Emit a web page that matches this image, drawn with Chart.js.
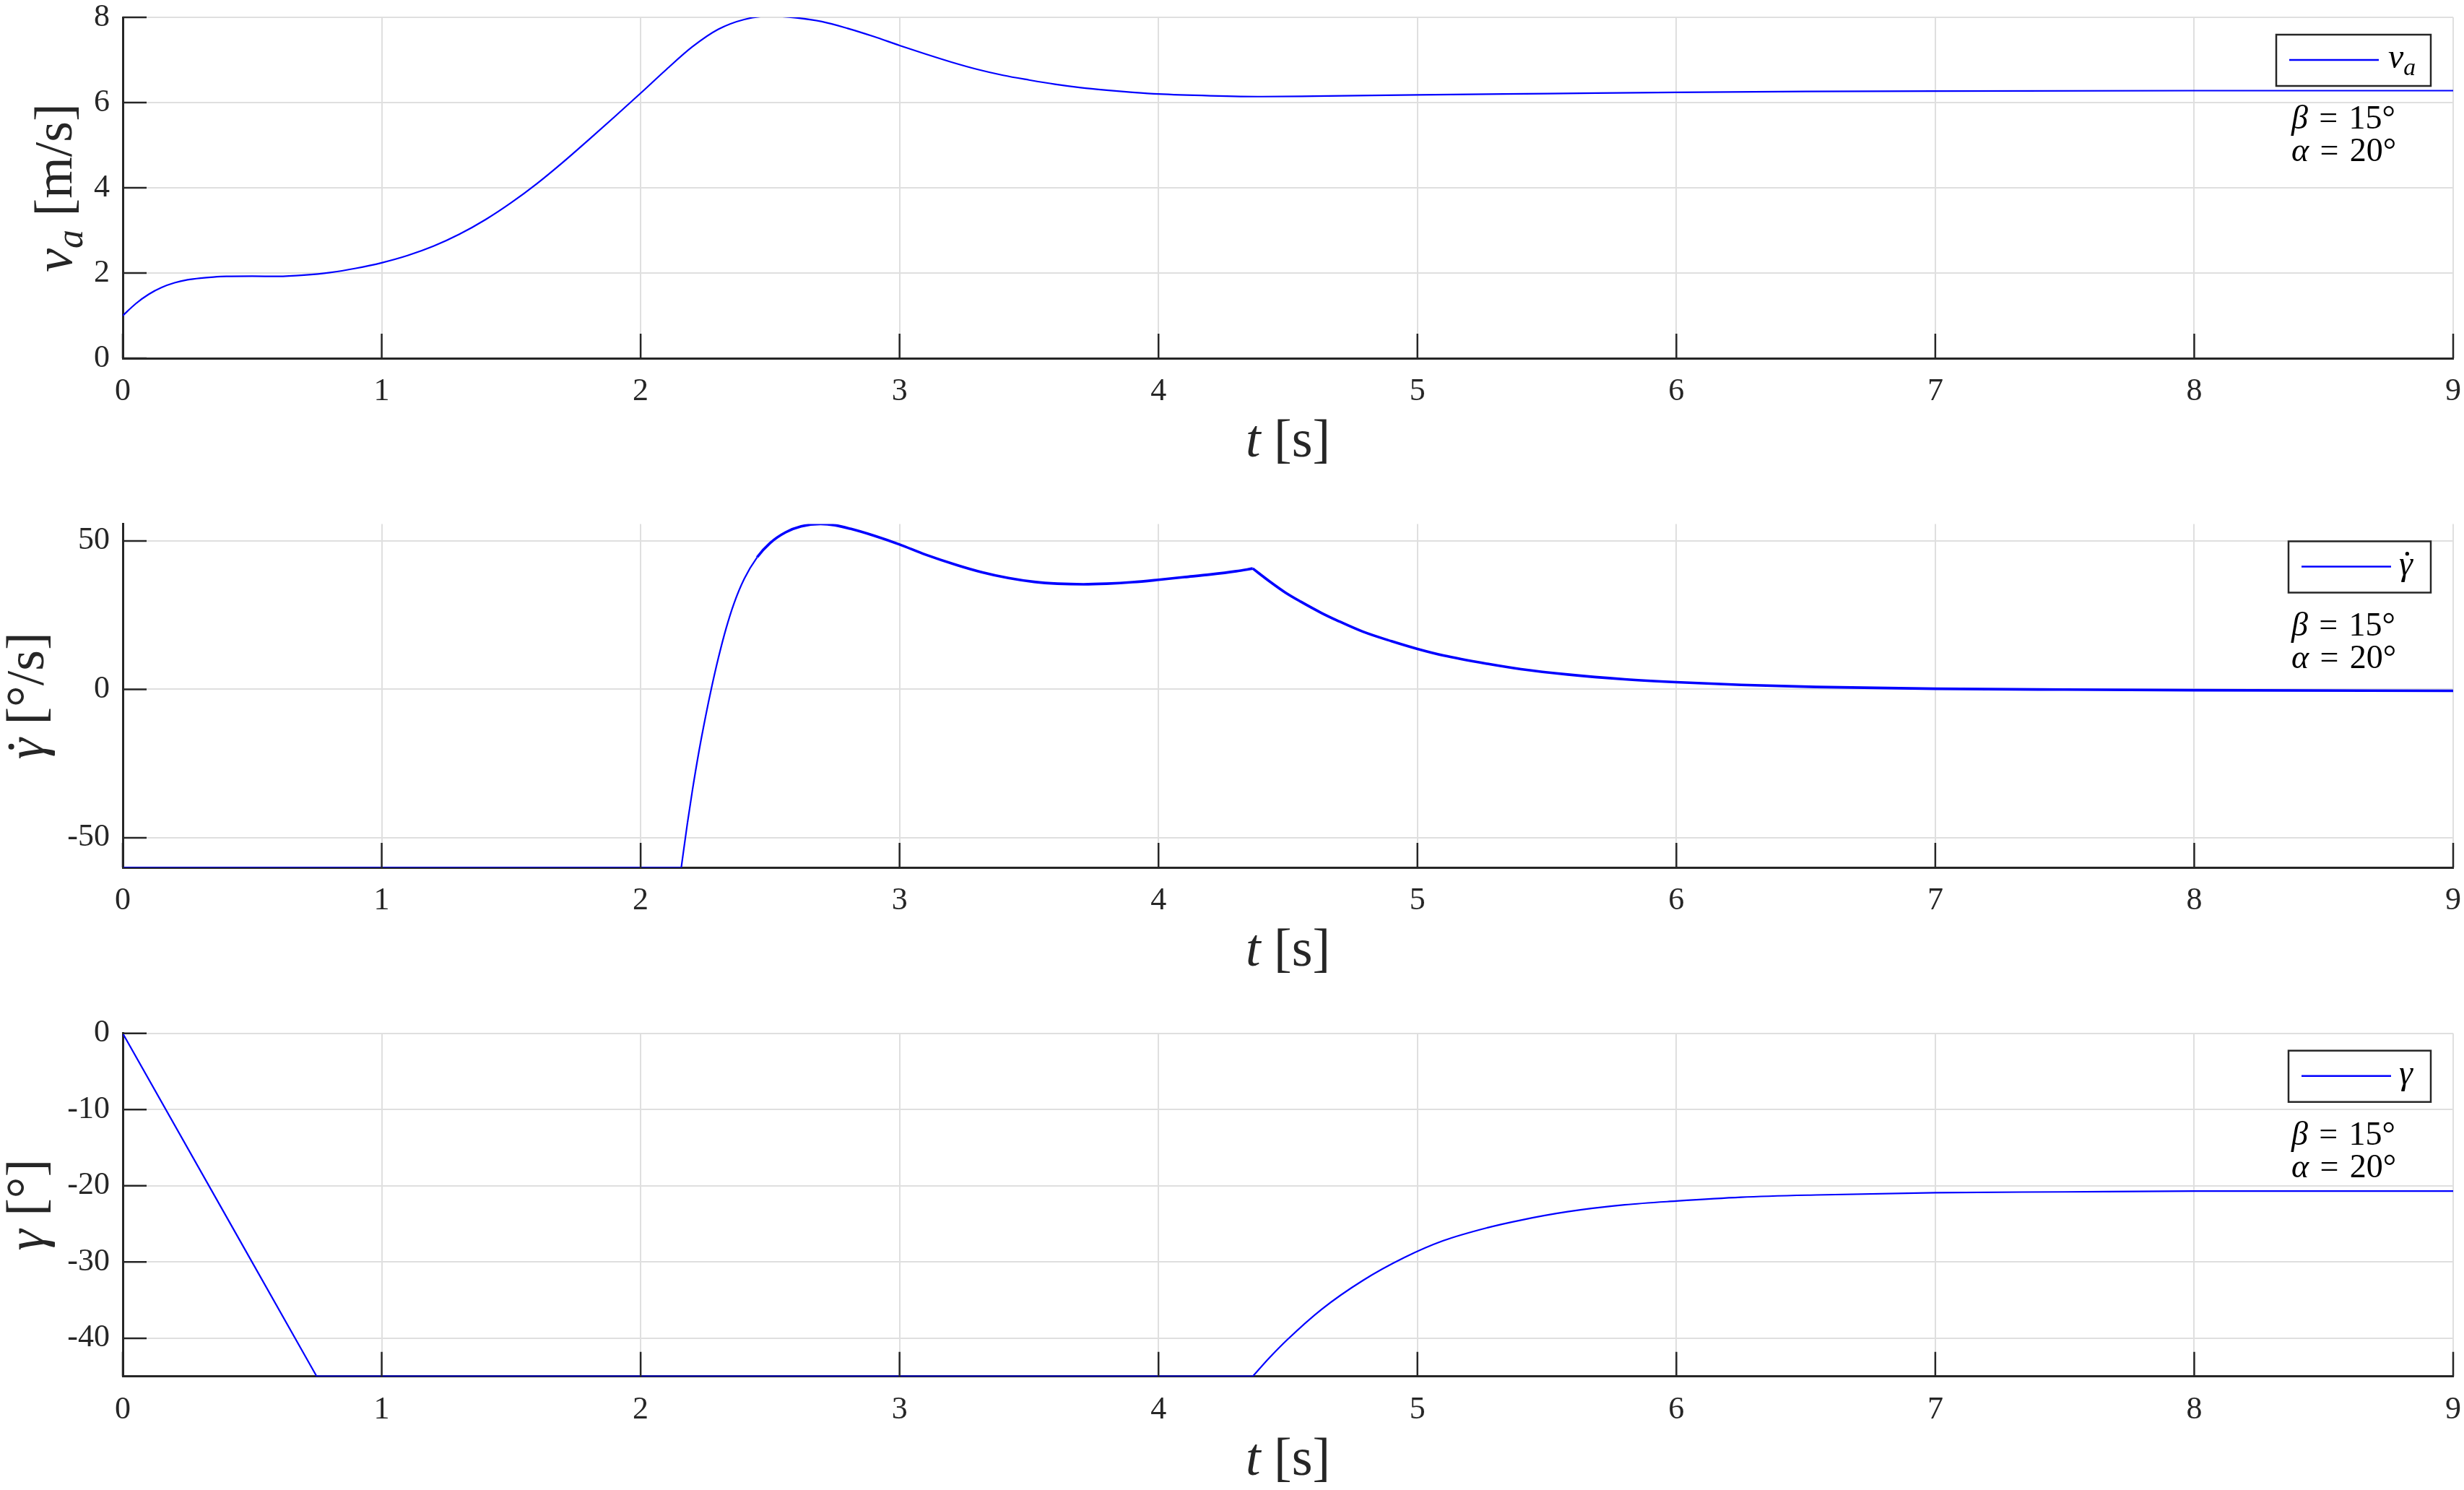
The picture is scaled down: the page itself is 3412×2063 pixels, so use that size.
<!DOCTYPE html>
<html>
<head>
<meta charset="utf-8">
<script src="https://cdn.jsdelivr.net/npm/chart.js@4.4.1/dist/chart.umd.min.js"></script>
<style>
    html, body { margin: 0; padding: 0; background: #fff; }
    #wrap { position: relative; width: 3412px; height: 2063px; overflow: hidden; }
    canvas { position: absolute; left: 0; }
</style>
</head>
<body>
<div id="wrap">
    <canvas id="c1" width="3412" height="688" style="top:0px"></canvas>
    <canvas id="c2" width="3412" height="688" style="top:688px"></canvas>
    <canvas id="c3" width="3412" height="687" style="top:1376px"></canvas>
</div>
<script>
// Data
const tVa = [0, 0.05, 0.1, 0.15, 0.2, 0.25, 0.3, 0.35, 0.4, 0.5, 0.6, 0.7, 0.8, 0.9,
    1.0, 1.1, 1.2, 1.3, 1.4, 1.5, 1.6, 1.7, 1.8, 1.9, 2.0, 2.1, 2.2, 2.3, 2.4, 2.5,
    2.6, 2.7, 2.8, 2.9, 3.0, 3.1, 3.2, 3.3, 3.4, 3.5, 3.6, 3.7, 3.8, 3.9, 4.0, 4.2,
    4.4, 4.6, 5.0, 5.5, 6.0, 6.5, 7.0, 8.0, 9.0];
const va = [1.00, 1.28, 1.50, 1.66, 1.77, 1.84, 1.88, 1.905, 1.92, 1.925, 1.92, 1.95, 2.01, 2.11,
    2.24, 2.41, 2.63, 2.91, 3.25, 3.65, 4.10, 4.60, 5.13, 5.67, 6.22, 6.78, 7.31, 7.72, 7.95, 8.03,
    7.99, 7.90, 7.74, 7.55, 7.34, 7.14, 6.95, 6.78, 6.64, 6.53, 6.43, 6.35, 6.29, 6.24, 6.20, 6.16,
    6.14, 6.15, 6.18, 6.21, 6.24, 6.26, 6.27, 6.28, 6.28];

const tGammaDot = [0, 2.157, 2.18, 2.2, 2.225, 2.25, 2.275, 2.3, 2.33, 2.36, 2.4, 2.45, 2.5,
    2.56, 2.62, 2.695, 2.75, 2.81, 2.9, 3.0, 3.1, 3.22, 3.32, 3.42, 3.52, 3.61, 3.71, 3.8, 3.9,
    4.0, 4.1, 4.2, 4.3, 4.364, 4.43, 4.49, 4.55, 4.63, 4.69, 4.79, 4.9, 5.0, 5.1, 5.27, 5.4,
    5.58, 5.8, 6.0, 6.25, 6.54, 7.0, 7.5, 8.0, 9.0];
const gammaDot = [-60, -60, -45.5, -34, -21, -9.5, 1, 10.5, 20.5, 28.8, 37.2, 44.5, 49.3,
    52.9, 54.9, 55.7, 55.3, 54.1, 51.8, 48.8, 45.4, 41.9, 39.4, 37.5, 36.2, 35.6, 35.4, 35.6, 36.1,
    36.9, 37.8, 38.7, 39.8, 40.7, 36.3, 32.6, 29.5, 25.7, 23.2, 19.4, 16.2, 13.6, 11.4, 8.6, 6.8,
    5.0, 3.4, 2.4, 1.5, 0.8, 0.2, -0.1, -0.3, -0.5];
const gammaDotCorners = [2.157, 4.364];

const tGamma = [0, 0.749, 4.364, 4.43, 4.5, 4.63, 4.79, 4.95, 5.1, 5.27, 5.4, 5.58,
    5.8, 6.0, 6.25, 6.54, 7.0, 7.5, 8.0, 9.0];
const gamma = [0, -45, -45, -42.5, -40.1, -36.2, -32.4, -29.4, -27.2, -25.5, -24.5, -23.4,
    -22.5, -22.0, -21.5, -21.2, -20.9, -20.8, -20.7, -20.7];
const gammaCorners = [0.749, 4.364];

const yTicksVa = [0, 2, 4, 6, 8];
const yTicksGammaDot = [-50, 0, 50];
const yTicksGamma = [-40, -30, -20, -10, 0];
const annotationText = [
    [{ t: 'β', it: true }, { t: '\u2004=\u200415°' }],
    [{ t: 'α', it: true }, { t: '\u2004=\u200420°' }]
];

const FONT = '"Liberation Serif", "Times New Roman", serif';
const INK = '#262626';
const BLUE = '#0000ff';

// split a series at its corner times so the smooth interpolation keeps the corners sharp
function pieces(xs, ys, corners) {
    const out = [];
    let cur = [];
    xs.forEach((x, i) => {
        cur.push({ x: x, y: ys[i] });
        if (corners.includes(x) && cur.length > 1) {
            out.push(cur);
            cur = [{ x: x, y: ys[i] }];
        }
    });
    if (cur.length > 1) out.push(cur);
    return out;
}

// draw mixed italic / roman / subscript text
function drawRich(ctx, parts, x, y, size, align) {
    const segs = parts.map(p => {
        const s = p.sub ? size * 0.7 : size;
        const font = (p.it ? 'italic ' : '') + s + 'px ' + FONT;
        ctx.font = font;
        return { p, font, w: ctx.measureText(p.t).width };
    });
    const total = segs.reduce((a, b) => a + b.w, 0);
    let cx = align === 'center' ? x - total / 2 : (align === 'right' ? x - total : x);
    ctx.textAlign = 'left';
    ctx.textBaseline = 'alphabetic';
    segs.forEach(sg => {
        ctx.font = sg.font;
        const dy = sg.p.sub ? size * 0.2 : 0;
        ctx.fillText(sg.p.t, cx, y + dy);
        if (sg.p.dot) {
            ctx.beginPath();
            ctx.arc(cx + sg.w * 0.6, y - size * 0.6, size * 0.055, 0, 2 * Math.PI);
            ctx.fill();
        }
        cx += sg.w;
    });
}

const panels = [
    {
        id: 'c1', canvasTop: 0, canvasH: 688, plotTop: 24, plotBottom: 496,
        series: pieces(tVa, va, []), yMin: 0, yMax: 8, yTicks: yTicksVa,
        yTitle: [{ t: 'v', it: true }, { t: 'a', it: true, sub: true }, { t: ' [m/s]' }], yTitleX: 99,
        legend: [{ t: 'v', it: true }, { t: 'a', it: true, sub: true }], legendW: 214, legendOff: 155,
        thick: null
    },
    {
        id: 'c2', canvasTop: 688, canvasH: 688, plotTop: 725.5, plotBottom: 1201,
        series: pieces(tGammaDot, gammaDot, gammaDotCorners), yMin: -60, yMax: 55.7, yTicks: yTicksGammaDot,
        yTitle: [{ t: 'γ', it: true, dot: true }, { t: ' [°/s]' }], yTitleX: 60,
        legend: [{ t: 'γ', it: true, dot: true }], legendW: 197, legendOff: 153,
        thick: 2.42
    },
    {
        id: 'c3', canvasTop: 1376, canvasH: 687, plotTop: 1430.7, plotBottom: 1905.7,
        series: pieces(tGamma, gamma, gammaCorners), yMin: -45, yMax: 0, yTicks: yTicksGamma,
        yTitle: [{ t: 'γ', it: true }, { t: ' [°]' }], yTitleX: 60,
        legend: [{ t: 'γ', it: true }], legendW: 197, legendOff: 153,
        thick: null
    }
];

function decorPlugin(p) {
    return {
        id: 'decor',
        afterDraw(chart) {
            const ctx = chart.ctx;
            const a = chart.chartArea;
            const xs = chart.scales.x, ys = chart.scales.y;
            ctx.save();

            // inward ticks
            ctx.strokeStyle = INK;
            ctx.lineWidth = 2.5;
            ctx.beginPath();
            xs.ticks.forEach(tk => {
                const px = xs.getPixelForValue(tk.value);
                ctx.moveTo(px, a.bottom);
                ctx.lineTo(px, a.bottom - 34);
            });
            ys.ticks.forEach(tk => {
                const py = ys.getPixelForValue(tk.value);
                ctx.moveTo(a.left, py);
                ctx.lineTo(a.left + 33, py);
            });
            ctx.stroke();

            ctx.fillStyle = INK;
            // x title
            drawRich(ctx, [{ t: 't', it: true }, { t: ' [s]' }], (a.left + a.right) / 2, a.bottom + 136, 74, 'center');
            // y title
            ctx.save();
            ctx.translate(p.yTitleX, (a.top + a.bottom) / 2);
            ctx.rotate(-Math.PI / 2);
            drawRich(ctx, p.yTitle, 0, 0, 74, 'center');
            ctx.restore();

            // legend box
            const bx = a.right - 31 - p.legendW, by = a.top + 24, bh = 71;
            ctx.fillStyle = '#fff';
            ctx.fillRect(bx, by, p.legendW, bh);
            ctx.strokeStyle = INK;
            ctx.lineWidth = 2.5;
            ctx.strokeRect(bx, by, p.legendW, bh);
            ctx.strokeStyle = chart.data.datasets[0].borderColor;
            ctx.lineWidth = 2.5;
            ctx.beginPath();
            ctx.moveTo(bx + 18, by + 35);
            ctx.lineTo(bx + 142, by + 35);
            ctx.stroke();
            ctx.fillStyle = '#000';
            drawRich(ctx, p.legend, bx + p.legendOff, by + 46, 48, 'left');

            // parameter annotation
            drawRich(ctx, annotationText[0], a.right - 224, a.top + 154, 46, 'left');
            drawRich(ctx, annotationText[1], a.right - 224, a.top + 199, 46, 'left');
            ctx.restore();
        }
    };
}

panels.forEach(p => {
    const ctx = document.getElementById(p.id).getContext('2d');
    const padTop = p.plotTop - p.canvasTop;
    const xAxisH = p.canvasTop + p.canvasH - p.plotBottom;
    const datasets = p.series.map(pts => {
        const ds = {
            data: pts,
            borderColor: BLUE,
            borderWidth: 2.2,
            borderJoinStyle: 'round',
            pointRadius: 0,
            cubicInterpolationMode: 'monotone',
            fill: false
        };
        if (p.thick !== null) {
            ds.segment = { borderWidth: c => (c.p0.parsed.x >= p.thick ? 3.6 : 2.2) };
        }
        return ds;
    });
    new Chart(ctx, {
        type: 'line',
        data: { datasets: datasets },
        options: {
            responsive: false,
            animation: false,
            parsing: false,
            layout: { autoPadding: false, padding: { top: padTop, right: 15, left: 0, bottom: 0 } },
            plugins: { legend: { display: false }, tooltip: { enabled: false } },
            scales: {
                x: {
                    type: 'linear', min: 0, max: 9,
                    ticks: { stepSize: 1, color: INK, padding: 20, maxRotation: 0, font: { family: FONT, size: 44 } },
                    grid: { color: '#dfdfdf', lineWidth: 2, drawTicks: false },
                    border: { display: true, color: INK, width: 3 },
                    afterFit: s => { s.height = xAxisH; s.paddingLeft = 0; s.paddingRight = 0; }
                },
                y: {
                    type: 'linear', min: p.yMin, max: p.yMax,
                    afterBuildTicks: s => { s.ticks = p.yTicks.map(v => ({ value: v })); },
                    ticks: { color: INK, padding: 18, font: { family: FONT, size: 44 } },
                    grid: { color: '#dfdfdf', lineWidth: 2, drawTicks: false },
                    border: { display: true, color: INK, width: 3 },
                    afterFit: s => { s.width = 170; s.paddingTop = 0; s.paddingBottom = 0; }
                }
            }
        },
        plugins: [decorPlugin(p)]
    });
});
</script>
</body>
</html>
